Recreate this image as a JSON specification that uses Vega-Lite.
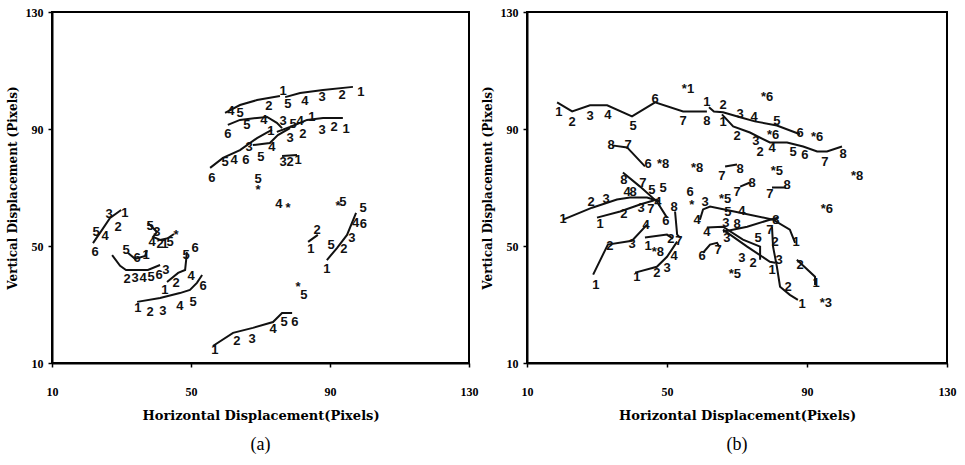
{
"$schema":"https://vega.github.io/schema/vega-lite/v6.json",
"padding":{"left":5,"top":5,"right":10,"bottom":5},
"spacing":58,
"bounds":"flush",
"background":"white",
"config":{
 "view":{"stroke":"black","strokeWidth":2},
 "axis":{"domainColor":"black","domainWidth":2,"tickColor":"black","tickWidth":1.5,"tickSize":4,"labelFont":"Liberation Serif","labelFontWeight":"bold","labelFontSize":12,"labelColor":"black","titleFont":"DejaVu Serif","titleFontWeight":"bold","titleColor":"black","grid":false,"labelFlush":false,"labelOverlap":false},
 "axisX":{"labelPadding":19,"titlePadding":12,"titleFontSize":13},
 "axisY":{"labelPadding":5,"titleFontSize":12,"titlePadding":6},
 "title":{"font":"Liberation Serif","fontSize":18,"fontWeight":"normal","color":"black","orient":"bottom","offset":14},
 "text":{"font":"Liberation Sans","fontWeight":"bold","fontSize":13,"color":"#111111","align":"center","baseline":"middle"},
 "line":{"color":"#111111","strokeWidth":2}
},
"datasets":{
"lines":[
{"p":"a","t":"a1","o":1,"x":59.8,"y":95.5},{"p":"a","t":"a1","o":2,"x":64.1,"y":98.2},{"p":"a","t":"a1","o":3,"x":69.0,"y":99.9},{"p":"a","t":"a1","o":4,"x":75.6,"y":101.3},
{"p":"a","t":"a2","o":1,"x":77.1,"y":100.9},{"p":"a","t":"a2","o":2,"x":81.4,"y":102.3},{"p":"a","t":"a2","o":3,"x":88.0,"y":103.3},{"p":"a","t":"a2","o":4,"x":96.6,"y":104.4},
{"p":"a","t":"a3","o":1,"x":60.6,"y":91.4},{"p":"a","t":"a3","o":2,"x":64.1,"y":93.1},{"p":"a","t":"a3","o":3,"x":69.0,"y":93.8},{"p":"a","t":"a3","o":4,"x":71.9,"y":94.1},{"p":"a","t":"a3","o":5,"x":74.7,"y":92.1},{"p":"a","t":"a3","o":6,"x":76.2,"y":90.3},
{"p":"a","t":"a4","o":1,"x":74.7,"y":89.0},{"p":"a","t":"a4","o":2,"x":78.5,"y":90.7},{"p":"a","t":"a4","o":3,"x":83.4,"y":93.1},{"p":"a","t":"a4","o":4,"x":88.0,"y":93.8},{"p":"a","t":"a4","o":5,"x":93.7,"y":93.8},
{"p":"a","t":"a5","o":1,"x":55.5,"y":76.7},{"p":"a","t":"a5","o":2,"x":59.2,"y":80.1},{"p":"a","t":"a5","o":3,"x":64.1,"y":82.8},{"p":"a","t":"a5","o":4,"x":69.0,"y":86.9},{"p":"a","t":"a5","o":5,"x":72.2,"y":89.0},{"p":"a","t":"a5","o":6,"x":73.3,"y":89.7},
{"p":"a","t":"a6","o":1,"x":67.8,"y":84.5},{"p":"a","t":"a6","o":2,"x":72.7,"y":85.2},{"p":"a","t":"a6","o":3,"x":75.0,"y":87.9},{"p":"a","t":"a6","o":4,"x":78.5,"y":90.3},
{"p":"a","t":"a7","o":1,"x":76.2,"y":80.8},{"p":"a","t":"a7","o":2,"x":80.5,"y":81.1},
{"p":"a","t":"a8","o":1,"x":83.7,"y":51.4},{"p":"a","t":"a8","o":2,"x":86.5,"y":53.8},
{"p":"a","t":"a9","o":1,"x":89.1,"y":45.2},{"p":"a","t":"a9","o":2,"x":92.0,"y":49.3},{"p":"a","t":"a9","o":3,"x":94.9,"y":53.8},{"p":"a","t":"a9","o":4,"x":97.5,"y":61.3},
{"p":"a","t":"a10","o":1,"x":56.3,"y":15.8},{"p":"a","t":"a10","o":2,"x":62.1,"y":20.3},{"p":"a","t":"a10","o":3,"x":67.8,"y":22.0},{"p":"a","t":"a10","o":4,"x":73.6,"y":24.0},{"p":"a","t":"a10","o":5,"x":76.2,"y":27.1},{"p":"a","t":"a10","o":6,"x":79.1,"y":27.1},
{"p":"a","t":"a11","o":1,"x":21.8,"y":51.0},{"p":"a","t":"a11","o":2,"x":24.4,"y":55.5},{"p":"a","t":"a11","o":3,"x":26.7,"y":59.6},{"p":"a","t":"a11","o":4,"x":29.9,"y":62.3},
{"p":"a","t":"a12","o":1,"x":37.6,"y":57.9},{"p":"a","t":"a12","o":2,"x":40.2,"y":54.8},{"p":"a","t":"a12","o":3,"x":39.1,"y":53.1},{"p":"a","t":"a12","o":4,"x":41.1,"y":52.1},{"p":"a","t":"a12","o":5,"x":43.4,"y":52.7},{"p":"a","t":"a12","o":6,"x":45.1,"y":54.1},
{"p":"a","t":"a13","o":1,"x":31.9,"y":47.6},{"p":"a","t":"a13","o":2,"x":33.9,"y":45.6},{"p":"a","t":"a13","o":3,"x":36.8,"y":46.6},{"p":"a","t":"a13","o":4,"x":37.3,"y":48.6},
{"p":"a","t":"a14","o":1,"x":27.3,"y":46.9},{"p":"a","t":"a14","o":2,"x":29.6,"y":43.2},{"p":"a","t":"a14","o":3,"x":31.3,"y":41.8},{"p":"a","t":"a14","o":4,"x":37.6,"y":41.8},{"p":"a","t":"a14","o":5,"x":41.1,"y":43.5},
{"p":"a","t":"a15","o":1,"x":43.1,"y":37.7},{"p":"a","t":"a15","o":2,"x":46.3,"y":40.8},{"p":"a","t":"a15","o":3,"x":48.3,"y":41.8},{"p":"a","t":"a15","o":4,"x":48.6,"y":45.2},{"p":"a","t":"a15","o":5,"x":48.8,"y":47.9},
{"p":"a","t":"a16","o":1,"x":34.5,"y":30.9},{"p":"a","t":"a16","o":2,"x":41.1,"y":32.2},{"p":"a","t":"a16","o":3,"x":46.8,"y":33.9},{"p":"a","t":"a16","o":4,"x":49.7,"y":35.0},{"p":"a","t":"a16","o":5,"x":51.7,"y":37.4},{"p":"a","t":"a16","o":6,"x":53.2,"y":40.1},
{"p":"b","t":"b1","o":1,"x":18.6,"y":99.1},{"p":"b","t":"b1","o":2,"x":22.9,"y":96.0},{"p":"b","t":"b1","o":3,"x":28.0,"y":98.1},{"p":"b","t":"b1","o":4,"x":32.9,"y":98.1},{"p":"b","t":"b1","o":5,"x":40.0,"y":94.3},{"p":"b","t":"b1","o":6,"x":46.6,"y":99.1},{"p":"b","t":"b1","o":7,"x":54.6,"y":96.0},{"p":"b","t":"b1","o":8,"x":61.4,"y":96.0},
{"p":"b","t":"b2","o":1,"x":62.0,"y":97.4},{"p":"b","t":"b2","o":2,"x":63.4,"y":96.0},{"p":"b","t":"b2","o":3,"x":66.0,"y":95.7},{"p":"b","t":"b2","o":4,"x":70.9,"y":94.0},{"p":"b","t":"b2","o":5,"x":75.1,"y":92.6},{"p":"b","t":"b2","o":6,"x":81.4,"y":91.2},{"p":"b","t":"b2","o":7,"x":88.0,"y":88.2},
{"p":"b","t":"b3","o":1,"x":65.7,"y":95.0},{"p":"b","t":"b3","o":2,"x":68.9,"y":90.9},{"p":"b","t":"b3","o":3,"x":73.7,"y":88.8},{"p":"b","t":"b3","o":4,"x":79.4,"y":85.4},{"p":"b","t":"b3","o":5,"x":84.3,"y":85.4},{"p":"b","t":"b3","o":6,"x":88.9,"y":84.0},{"p":"b","t":"b3","o":7,"x":92.9,"y":82.3},{"p":"b","t":"b3","o":8,"x":95.7,"y":82.3},{"p":"b","t":"b3","o":9,"x":100.0,"y":84.0},
{"p":"b","t":"b4","o":1,"x":34.3,"y":84.4},{"p":"b","t":"b4","o":2,"x":38.6,"y":83.7},{"p":"b","t":"b4","o":3,"x":43.7,"y":77.2},
{"p":"b","t":"b5","o":1,"x":20.3,"y":59.0},{"p":"b","t":"b5","o":2,"x":28.6,"y":63.1},{"p":"b","t":"b5","o":3,"x":35.7,"y":65.9},{"p":"b","t":"b5","o":4,"x":39.4,"y":66.6},{"p":"b","t":"b5","o":5,"x":44.3,"y":66.6},{"p":"b","t":"b5","o":6,"x":48.0,"y":65.2},
{"p":"b","t":"b6","o":1,"x":30.0,"y":59.7},{"p":"b","t":"b6","o":2,"x":36.6,"y":61.8},{"p":"b","t":"b6","o":3,"x":42.3,"y":64.2},{"p":"b","t":"b6","o":4,"x":47.1,"y":65.9},
{"p":"b","t":"b7","o":1,"x":37.4,"y":75.1},{"p":"b","t":"b7","o":2,"x":42.3,"y":70.3},{"p":"b","t":"b7","o":3,"x":47.1,"y":65.2},{"p":"b","t":"b7","o":4,"x":50.0,"y":59.7},
{"p":"b","t":"b8","o":1,"x":52.3,"y":61.8},{"p":"b","t":"b8","o":2,"x":52.9,"y":53.9},{"p":"b","t":"b8","o":3,"x":53.7,"y":52.9},
{"p":"b","t":"b9","o":1,"x":43.7,"y":52.9},{"p":"b","t":"b9","o":2,"x":50.0,"y":53.9},{"p":"b","t":"b9","o":3,"x":51.7,"y":52.5},
{"p":"b","t":"b10","o":1,"x":40.9,"y":40.9},{"p":"b","t":"b10","o":2,"x":47.1,"y":42.9},{"p":"b","t":"b10","o":3,"x":50.0,"y":46.3},{"p":"b","t":"b10","o":4,"x":52.9,"y":51.5},
{"p":"b","t":"b11","o":1,"x":28.9,"y":40.2},{"p":"b","t":"b11","o":2,"x":33.1,"y":50.5},{"p":"b","t":"b11","o":3,"x":40.0,"y":51.8},{"p":"b","t":"b11","o":4,"x":44.3,"y":57.3},
{"p":"b","t":"b12","o":1,"x":59.4,"y":59.0},{"p":"b","t":"b12","o":2,"x":60.3,"y":62.5},{"p":"b","t":"b12","o":3,"x":62.3,"y":63.5},{"p":"b","t":"b12","o":4,"x":70.9,"y":61.4},{"p":"b","t":"b12","o":5,"x":80.3,"y":59.0},{"p":"b","t":"b12","o":6,"x":85.1,"y":55.6},{"p":"b","t":"b12","o":7,"x":86.6,"y":51.1},
{"p":"b","t":"b13","o":1,"x":61.4,"y":56.3},{"p":"b","t":"b13","o":2,"x":66.0,"y":56.6},{"p":"b","t":"b13","o":3,"x":71.7,"y":52.2},{"p":"b","t":"b13","o":4,"x":76.6,"y":49.8},{"p":"b","t":"b13","o":5,"x":76.6,"y":45.3},
{"p":"b","t":"b14","o":1,"x":66.0,"y":55.6},{"p":"b","t":"b14","o":2,"x":72.9,"y":49.8},{"p":"b","t":"b14","o":3,"x":79.4,"y":44.6},{"p":"b","t":"b14","o":4,"x":80.9,"y":44.3},
{"p":"b","t":"b15","o":1,"x":66.0,"y":54.9},{"p":"b","t":"b15","o":2,"x":72.9,"y":56.6},{"p":"b","t":"b15","o":3,"x":79.4,"y":59.0},{"p":"b","t":"b15","o":4,"x":81.7,"y":59.7},
{"p":"b","t":"b16","o":1,"x":80.0,"y":56.6},{"p":"b","t":"b16","o":2,"x":80.3,"y":49.8},{"p":"b","t":"b16","o":3,"x":81.4,"y":42.9},{"p":"b","t":"b16","o":4,"x":82.3,"y":36.1},{"p":"b","t":"b16","o":5,"x":85.1,"y":33.3},{"p":"b","t":"b16","o":6,"x":87.4,"y":31.6},
{"p":"b","t":"b17","o":1,"x":87.1,"y":45.3},{"p":"b","t":"b17","o":2,"x":92.3,"y":39.5},{"p":"b","t":"b17","o":3,"x":92.3,"y":36.7},
{"p":"b","t":"b18","o":1,"x":60.3,"y":47.7},{"p":"b","t":"b18","o":2,"x":62.3,"y":50.5},{"p":"b","t":"b18","o":3,"x":64.3,"y":51.1},{"p":"b","t":"b18","o":4,"x":64.9,"y":49.8},
{"p":"b","t":"b19","o":1,"x":66.6,"y":77.2},{"p":"b","t":"b19","o":2,"x":70.0,"y":77.9},
{"p":"b","t":"b20","o":1,"x":70.9,"y":70.3},{"p":"b","t":"b20","o":2,"x":73.7,"y":71.7},
{"p":"b","t":"b21","o":1,"x":80.0,"y":70.0},{"p":"b","t":"b21","o":2,"x":84.0,"y":70.0}
],
"labels":[
{"p":"a","x":61.5,"y":96.2,"s":"4"},{"p":"a","x":64.1,"y":95.5,"s":"5"},{"p":"a","x":72.4,"y":97.9,"s":"2"},{"p":"a","x":76.5,"y":103.0,"s":"1"},
{"p":"a","x":77.9,"y":98.5,"s":"5"},{"p":"a","x":82.8,"y":99.6,"s":"4"},{"p":"a","x":87.7,"y":100.9,"s":"3"},{"p":"a","x":93.5,"y":101.6,"s":"2"},{"p":"a","x":98.9,"y":102.6,"s":"1"},
{"p":"a","x":60.6,"y":88.3,"s":"6"},{"p":"a","x":66.1,"y":91.4,"s":"5"},{"p":"a","x":71.0,"y":93.1,"s":"4"},{"p":"a","x":76.5,"y":92.7,"s":"3"},
{"p":"a","x":79.4,"y":91.7,"s":"5"},{"p":"a","x":81.4,"y":92.7,"s":"4"},{"p":"a","x":84.8,"y":94.1,"s":"1"},
{"p":"a","x":78.5,"y":86.9,"s":"3"},{"p":"a","x":82.2,"y":88.3,"s":"2"},{"p":"a","x":87.7,"y":89.7,"s":"3"},{"p":"a","x":91.2,"y":90.7,"s":"2"},{"p":"a","x":94.6,"y":90.0,"s":"1"},
{"p":"a","x":56.0,"y":73.2,"s":"6"},{"p":"a","x":59.8,"y":78.7,"s":"5"},{"p":"a","x":62.4,"y":79.4,"s":"4"},{"p":"a","x":65.8,"y":79.4,"s":"6"},{"p":"a","x":70.1,"y":80.4,"s":"5"},{"p":"a","x":66.7,"y":83.8,"s":"3"},{"p":"a","x":73.3,"y":83.8,"s":"4"},{"p":"a","x":73.0,"y":89.3,"s":"1"},
{"p":"a","x":76.5,"y":78.7,"s":"3"},{"p":"a","x":78.5,"y":78.7,"s":"2"},{"p":"a","x":80.8,"y":79.4,"s":"1"},
{"p":"a","x":69.3,"y":72.9,"s":"5"},{"p":"a","x":69.3,"y":69.3,"s":"*"},
{"p":"a","x":75.3,"y":64.4,"s":"4"},{"p":"a","x":77.9,"y":63.0,"s":"*"},
{"p":"a","x":92.3,"y":63.7,"s":"*"},{"p":"a","x":93.7,"y":65.0,"s":"5"},
{"p":"a","x":99.5,"y":63.0,"s":"5"},{"p":"a","x":99.6,"y":57.4,"s":"6"},{"p":"a","x":97.4,"y":58.0,"s":"4"},{"p":"a","x":96.3,"y":52.7,"s":"3"},{"p":"a","x":94.0,"y":49.0,"s":"2"},{"p":"a","x":90.3,"y":50.3,"s":"5"},{"p":"a","x":89.1,"y":42.1,"s":"1"},
{"p":"a","x":86.3,"y":55.5,"s":"2"},{"p":"a","x":84.5,"y":49.0,"s":"1"},
{"p":"a","x":80.8,"y":36.0,"s":"*"},{"p":"a","x":82.5,"y":33.2,"s":"5"},
{"p":"a","x":56.9,"y":14.4,"s":"1"},{"p":"a","x":63.2,"y":17.5,"s":"2"},{"p":"a","x":67.6,"y":18.2,"s":"3"},{"p":"a","x":73.6,"y":21.6,"s":"4"},{"p":"a","x":76.8,"y":24.0,"s":"5"},{"p":"a","x":79.9,"y":24.0,"s":"6"},
{"p":"a","x":31.0,"y":61.3,"s":"1"},{"p":"a","x":26.4,"y":60.9,"s":"3"},{"p":"a","x":29.0,"y":56.5,"s":"2"},{"p":"a","x":22.7,"y":54.8,"s":"5"},{"p":"a","x":25.3,"y":53.4,"s":"4"},{"p":"a","x":22.4,"y":47.9,"s":"6"},
{"p":"a","x":38.2,"y":56.8,"s":"5"},{"p":"a","x":40.2,"y":54.8,"s":"3"},{"p":"a","x":38.8,"y":51.4,"s":"4"},{"p":"a","x":41.1,"y":50.7,"s":"2"},{"p":"a","x":42.5,"y":50.7,"s":"1"},{"p":"a","x":44.0,"y":51.4,"s":"5"},{"p":"a","x":45.7,"y":53.8,"s":"*"},
{"p":"a","x":31.3,"y":48.6,"s":"5"},{"p":"a","x":34.5,"y":45.9,"s":"6"},{"p":"a","x":37.1,"y":46.9,"s":"1"},
{"p":"a","x":31.6,"y":38.7,"s":"2"},{"p":"a","x":33.9,"y":39.1,"s":"3"},{"p":"a","x":36.2,"y":39.1,"s":"4"},{"p":"a","x":38.5,"y":39.4,"s":"5"},{"p":"a","x":40.8,"y":40.1,"s":"6"},{"p":"a","x":42.8,"y":41.8,"s":"3"},
{"p":"a","x":45.7,"y":37.4,"s":"2"},{"p":"a","x":50.0,"y":39.7,"s":"4"},{"p":"a","x":48.6,"y":46.9,"s":"5"},{"p":"a","x":51.2,"y":49.3,"s":"6"},
{"p":"a","x":34.7,"y":28.8,"s":"1"},{"p":"a","x":38.2,"y":27.4,"s":"2"},{"p":"a","x":41.9,"y":27.8,"s":"3"},{"p":"a","x":46.8,"y":29.5,"s":"4"},{"p":"a","x":50.6,"y":30.9,"s":"5"},{"p":"a","x":53.5,"y":36.3,"s":"6"},{"p":"a","x":42.5,"y":35.0,"s":"1"},
{"p":"b","x":19.1,"y":95.7,"s":"1"},{"p":"b","x":22.9,"y":92.3,"s":"2"},{"p":"b","x":28.0,"y":94.3,"s":"3"},{"p":"b","x":33.1,"y":94.7,"s":"4"},{"p":"b","x":40.3,"y":90.9,"s":"5"},{"p":"b","x":46.6,"y":100.2,"s":"6"},{"p":"b","x":54.6,"y":92.6,"s":"7"},{"p":"b","x":61.4,"y":92.6,"s":"8"},
{"p":"b","x":56.0,"y":103.6,"s":"*1"},
{"p":"b","x":61.4,"y":99.1,"s":"1"},{"p":"b","x":66.0,"y":98.1,"s":"2"},{"p":"b","x":70.9,"y":95.0,"s":"3"},{"p":"b","x":74.9,"y":94.0,"s":"4"},{"p":"b","x":81.4,"y":92.6,"s":"5"},{"p":"b","x":88.0,"y":88.5,"s":"6"},{"p":"b","x":92.9,"y":87.1,"s":"*6"},
{"p":"b","x":78.6,"y":100.8,"s":"*6"},
{"p":"b","x":66.0,"y":92.3,"s":"1"},{"p":"b","x":70.0,"y":87.5,"s":"2"},{"p":"b","x":75.4,"y":85.8,"s":"3"},{"p":"b","x":76.6,"y":82.0,"s":"2"},{"p":"b","x":80.0,"y":83.4,"s":"4"},{"p":"b","x":86.0,"y":82.0,"s":"5"},{"p":"b","x":89.4,"y":81.0,"s":"6"},{"p":"b","x":95.1,"y":78.6,"s":"7"},{"p":"b","x":100.3,"y":81.3,"s":"8"},{"p":"b","x":80.3,"y":87.8,"s":"*6"},
{"p":"b","x":34.0,"y":84.7,"s":"8"},{"p":"b","x":38.9,"y":84.4,"s":"7"},{"p":"b","x":44.6,"y":78.2,"s":"6"},{"p":"b","x":48.9,"y":77.9,"s":"*8"},
{"p":"b","x":58.6,"y":76.8,"s":"*8"},{"p":"b","x":81.4,"y":75.8,"s":"*5"},{"p":"b","x":104.3,"y":74.1,"s":"*8"},{"p":"b","x":66.6,"y":65.9,"s":"*5"},{"p":"b","x":95.7,"y":62.8,"s":"*6"},{"p":"b","x":47.4,"y":48.1,"s":"*8"},{"p":"b","x":69.4,"y":40.5,"s":"*5"},{"p":"b","x":95.4,"y":30.6,"s":"*3"},
{"p":"b","x":56.6,"y":68.6,"s":"6"},{"p":"b","x":57.1,"y":64.0,"s":"*"},{"p":"b","x":60.9,"y":64.9,"s":"3"},
{"p":"b","x":65.7,"y":73.8,"s":"7"},{"p":"b","x":70.9,"y":76.2,"s":"8"},
{"p":"b","x":70.0,"y":68.3,"s":"7"},{"p":"b","x":74.3,"y":71.4,"s":"8"},
{"p":"b","x":79.4,"y":67.9,"s":"7"},{"p":"b","x":84.3,"y":71.0,"s":"8"},
{"p":"b","x":20.3,"y":59.4,"s":"1"},{"p":"b","x":28.3,"y":65.2,"s":"2"},{"p":"b","x":32.6,"y":65.9,"s":"3"},{"p":"b","x":38.6,"y":68.3,"s":"4"},{"p":"b","x":40.3,"y":68.3,"s":"8"},
{"p":"b","x":30.9,"y":57.6,"s":"1"},{"p":"b","x":37.7,"y":61.1,"s":"2"},{"p":"b","x":42.6,"y":63.1,"s":"3"},{"p":"b","x":45.4,"y":62.8,"s":"7"},{"p":"b","x":47.4,"y":65.2,"s":"4"},
{"p":"b","x":37.7,"y":72.7,"s":"8"},{"p":"b","x":43.1,"y":71.7,"s":"7"},{"p":"b","x":45.7,"y":69.3,"s":"5"},{"p":"b","x":48.9,"y":70.0,"s":"5"},{"p":"b","x":49.7,"y":58.7,"s":"6"},
{"p":"b","x":52.0,"y":63.5,"s":"8"},{"p":"b","x":53.4,"y":51.8,"s":"7"},
{"p":"b","x":44.6,"y":50.1,"s":"1"},{"p":"b","x":51.1,"y":52.5,"s":"2"},
{"p":"b","x":41.4,"y":39.5,"s":"1"},{"p":"b","x":47.1,"y":40.9,"s":"2"},{"p":"b","x":50.0,"y":42.6,"s":"3"},{"p":"b","x":52.0,"y":46.7,"s":"4"},
{"p":"b","x":29.7,"y":36.7,"s":"1"},{"p":"b","x":33.7,"y":50.1,"s":"2"},{"p":"b","x":40.0,"y":50.8,"s":"3"},{"p":"b","x":44.0,"y":57.3,"s":"4"},
{"p":"b","x":58.6,"y":59.0,"s":"4"},{"p":"b","x":71.4,"y":61.8,"s":"4"},{"p":"b","x":86.9,"y":51.5,"s":"1"},
{"p":"b","x":61.4,"y":54.9,"s":"4"},{"p":"b","x":76.0,"y":52.9,"s":"5"},
{"p":"b","x":67.1,"y":52.9,"s":"3"},{"p":"b","x":71.4,"y":46.0,"s":"3"},{"p":"b","x":74.6,"y":44.3,"s":"2"},
{"p":"b","x":67.4,"y":61.6,"s":"5"},{"p":"b","x":66.8,"y":57.8,"s":"3"},{"p":"b","x":70.0,"y":57.6,"s":"8"},{"p":"b","x":81.1,"y":59.0,"s":"8"},
{"p":"b","x":79.4,"y":55.6,"s":"7"},{"p":"b","x":80.9,"y":51.5,"s":"2"},{"p":"b","x":82.0,"y":45.3,"s":"3"},{"p":"b","x":80.0,"y":41.9,"s":"1"},{"p":"b","x":84.6,"y":36.1,"s":"2"},{"p":"b","x":88.6,"y":30.2,"s":"1"},
{"p":"b","x":88.0,"y":43.6,"s":"2"},{"p":"b","x":92.6,"y":37.4,"s":"1"},
{"p":"b","x":60.0,"y":46.7,"s":"6"},{"p":"b","x":64.6,"y":48.7,"s":"7"}
]
},
"hconcat":[
{
 "width":417,"height":351,
 "title":{"text":"(a)"},
 "layer":[
  {"data":{"name":"lines"},"transform":[{"filter":"datum.p==='a'"}],
   "mark":{"type":"line"},
   "encoding":{
    "x":{"field":"x","type":"quantitative","scale":{"domain":[10,130],"nice":false,"zero":false},"axis":{"values":[10,50,90,130],"title":"Horizontal Displacement(Pixels)"}},
    "y":{"field":"y","type":"quantitative","scale":{"domain":[10,130],"nice":false,"zero":false},"axis":{"values":[10,50,90,130],"title":"Vertical Displacement (Pixels)"}},
    "detail":{"field":"t"},
    "order":{"field":"o"}}},
  {"data":{"name":"labels"},"transform":[{"filter":"datum.p==='a'"}],
   "mark":{"type":"text"},
   "encoding":{
    "x":{"field":"x","type":"quantitative"},
    "y":{"field":"y","type":"quantitative"},
    "text":{"field":"s"}}}
 ]
},
{
 "width":420,"height":351,
 "title":{"text":"(b)"},
 "layer":[
  {"data":{"name":"lines"},"transform":[{"filter":"datum.p==='b'"}],
   "mark":{"type":"line"},
   "encoding":{
    "x":{"field":"x","type":"quantitative","scale":{"domain":[10,130],"nice":false,"zero":false},"axis":{"values":[10,50,90,130],"title":"Horizontal Displacement(Pixels)"}},
    "y":{"field":"y","type":"quantitative","scale":{"domain":[10,130],"nice":false,"zero":false},"axis":{"values":[10,50,90,130],"title":"Vertical Displacement (Pixels)"}},
    "detail":{"field":"t"},
    "order":{"field":"o"}}},
  {"data":{"name":"labels"},"transform":[{"filter":"datum.p==='b'"}],
   "mark":{"type":"text"},
   "encoding":{
    "x":{"field":"x","type":"quantitative"},
    "y":{"field":"y","type":"quantitative"},
    "text":{"field":"s"}}}
 ]
}
]
}
